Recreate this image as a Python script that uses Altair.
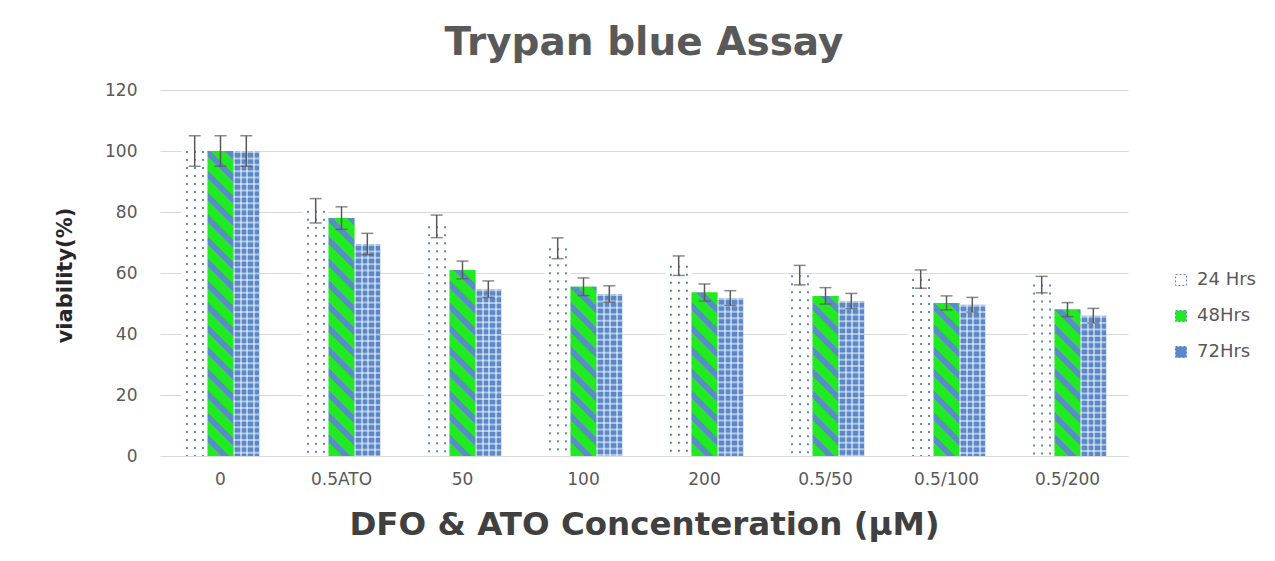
import math
import altair as alt
import pandas as pd

categories = ["0", "0.5ATO", "50", "100", "200", "0.5/50", "0.5/100", "0.5/200"]
series = ["24 Hrs", "48Hrs", "72Hrs"]
v24 = [100, 80.4, 75.3, 68.1, 62.4, 59.3, 58.0, 56.2]
e24 = [5.0, 4.0, 3.7, 3.4, 3.2, 3.2, 3.0, 2.7]
v48 = [100, 78.0, 61.0, 55.5, 53.6, 52.5, 50.2, 48.0]
e48 = [5.0, 3.7, 2.9, 2.9, 2.8, 2.7, 2.3, 2.3]
v72 = [100, 69.5, 54.7, 53.1, 51.8, 50.8, 49.6, 46.0]
e72 = [5.0, 3.5, 2.7, 2.7, 2.4, 2.5, 2.4, 2.4]
y_ticks = [0, 20, 40, 60, 80, 100, 120]

rows = []
for s, vals, errs in zip(series, [v24, v48, v72], [e24, e48, e72]):
    for i, c in enumerate(categories):
        rows.append(dict(cat=c, series=s, idx=i, value=vals[i],
                         lo=vals[i] - errs[i], hi=vals[i] + errs[i], zero=0))
df = pd.DataFrame(rows)

W, H = 968, 366
P_IN, P_OUT = 0.36, 0.18
step = W / (len(categories) - P_IN + 2 * P_OUT)
sub_w = step * (1 - P_IN) / 3

GREEN = "#22ea22"
STRIPE = "#5b8bc9"
BLUE72 = "#5b88c8"
DOT = "#5b8bd0"
FONT = "DejaVu Sans"

x_enc = alt.X("cat:N", sort=categories, title="DFO & ATO Concenteration (µM)",
              scale=alt.Scale(paddingInner=P_IN, paddingOuter=P_OUT),
              axis=alt.Axis(labelAngle=0, ticks=False, domain=False, grid=False,
                            labelFont=FONT, labelFontSize=17, labelColor="#595959",
                            labelPadding=15, titleFont=FONT, titleFontSize=32.5,
                            titleFontWeight="bold", titleColor="#404040",
                            titleY=78, titleBaseline="alphabetic"))
xo_enc = alt.XOffset("series:N", sort=series,
                     scale=alt.Scale(domain=series, paddingInner=0, paddingOuter=0))
y_axis = alt.Axis(values=y_ticks, grid=True, gridColor="#d9d9d9", gridWidth=1,
                  domain=False, ticks=False, labelFont=FONT, labelFontSize=17,
                  labelColor="#595959", labelPadding=23, titleFont=FONT,
                  titleFontSize=21, titleFontWeight="bold", titleColor="#262626",
                  titleX=-95, titleY=185, titleAngle=270, titleAlign="center",
                  titleBaseline="middle")


def Y(field):
    return alt.Y(f"{field}:Q", scale=alt.Scale(domain=[0, 120], nice=False),
                 axis=y_axis, title="viability(%)")


base = alt.Chart(df)

bars = base.mark_bar(strokeWidth=0).encode(
    x=x_enc, xOffset=xo_enc, y=Y("value"),
    color=alt.Color("series:N", sort=series,
                    scale=alt.Scale(domain=series, range=["#ffffff", GREEN, BLUE72]),
                    legend=alt.Legend(title=None, orient="none", legendX=1012, legendY=181,
                                      symbolType="square", symbolSize=120,
                                      symbolStrokeColor=DOT, symbolStrokeWidth=1,
                                      symbolDash=[2, 2], labelFont=FONT,
                                      labelFontSize=18, labelColor="#595959",
                                      labelOffset=7, rowPadding=18, padding=0)))

# 24 Hrs: dotted columns
TR = "rgba(255,255,255,0)"
col_stops = []
for c in [0.19, 0.5, 0.81]:
    a, b = c - 0.04, c + 0.04
    col_stops += [dict(offset=a, color=TR), dict(offset=a, color=DOT),
                  dict(offset=b, color=DOT), dict(offset=b, color=TR)]
col_stops = [dict(offset=0, color=TR)] + col_stops + [dict(offset=1, color=TR)]
grad_cols = dict(gradient="linear", x1=0, y1=0, x2=1, y2=0, stops=col_stops)

cols24 = base.transform_filter(alt.datum.series == "24 Hrs").mark_bar(
    fill=grad_cols, strokeWidth=0).encode(x=x_enc, xOffset=xo_enc, y=Y("value"))
break24 = base.transform_filter(alt.datum.series == "24 Hrs").mark_rule(
    stroke="white", strokeWidth=sub_w, strokeDash=[6, 2], strokeDashOffset=6).encode(
    x=x_enc, xOffset=xo_enc, y=Y("value"), y2=alt.Y2("zero:Q"))

# 48Hrs: diagonal stripes, one gradient per bar so spacing is constant
period = 22.0
blue_frac = 0.38
layers48 = []
for i, v in enumerate(v48):
    h = v * H / 120.0
    w = sub_w
    k = (w + h) / (w * w + h * h)
    n = (w + h) / period
    stops = []
    j = 0
    while j / n < 1:
        s0 = j / n
        s1 = min(1.0, (j + 1 - blue_frac) / n)
        s2 = min(1.0, (j + 1) / n)
        stops += [dict(offset=s0, color=GREEN), dict(offset=s1, color=GREEN),
                  dict(offset=s1, color=STRIPE), dict(offset=s2, color=STRIPE)]
        j += 1
    grad = dict(gradient="linear", x1=0, y1=1, x2=k * w, y2=1 - k * h, stops=stops)
    layers48.append(base.transform_filter(
        (alt.datum.series == "48Hrs") & (alt.datum.idx == i)).mark_bar(
        fill=grad, strokeWidth=0).encode(x=x_enc, xOffset=xo_enc, y=Y("value")))

# 72Hrs: light lattice over blue
LT = "rgba(255,255,255,0.5)"
vstops = []
nper = 4
for j in range(nper):
    a = j / nper
    b = a + 0.3 / nper
    e = (j + 1) / nper
    vstops += [dict(offset=a, color=LT), dict(offset=b, color=LT),
               dict(offset=b, color=TR), dict(offset=e, color=TR)]
grad_v = dict(gradient="linear", x1=0, y1=0, x2=1, y2=0, stops=vstops)
vert72 = base.transform_filter(alt.datum.series == "72Hrs").mark_bar(
    fill=grad_v, strokeWidth=0).encode(x=x_enc, xOffset=xo_enc, y=Y("value"))
horiz72 = base.transform_filter(alt.datum.series == "72Hrs").mark_rule(
    stroke=LT, strokeWidth=sub_w, strokeDash=[2, 4.4]).encode(
    x=x_enc, xOffset=xo_enc, y=Y("value"), y2=alt.Y2("zero:Q"))

err_rule = base.mark_rule(color="#595959", strokeWidth=1.5).encode(
    x=x_enc, xOffset=xo_enc, y=Y("lo"), y2=alt.Y2("hi:Q"))
err_lo = base.mark_tick(color="#595959", size=12, thickness=1.5).encode(
    x=x_enc, xOffset=xo_enc, y=Y("lo"))
err_hi = base.mark_tick(color="#595959", size=12, thickness=1.5).encode(
    x=x_enc, xOffset=xo_enc, y=Y("hi"))

chart = alt.layer(
    bars, cols24, break24, *layers48, vert72, horiz72,
    err_rule, err_lo, err_hi
).properties(
    width=W, height=H,
    title=alt.TitleParams("Trypan blue Assay", font=FONT, fontSize=39,
                          fontWeight="bold", color="#595959", anchor="middle",
                          baseline="alphabetic", offset=30, dy=43),
    autosize=alt.AutoSizeParams(type="none"),
    padding={"left": 152, "top": 82, "right": 139, "bottom": 95},
).configure_view(stroke=None)

chart.save("out.html", embed_options={"renderer": "svg", "actions": False})
